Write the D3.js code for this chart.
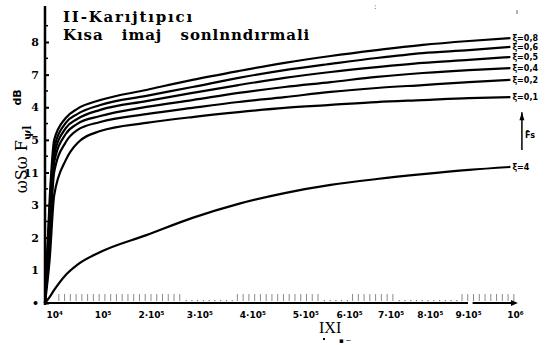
<!DOCTYPE html>
<html>
<head>
<meta charset="utf-8">
<script src="https://cdn.jsdelivr.net/npm/d3@7"></script>
<style>
  body { margin: 0; background: #fff; }
  svg { display: block; }
</style>
</head>
<body>
<svg id="chart"></svg>
<script>
// x positions of samples (axis units)
const xSamples = [-0.2, -0.1, 0, 0.25, 0.5, 1, 2, 3, 4, 5, 6, 7, 8, 9, 9.9];

const curveA = [0, 3.16, 5.0, 5.67, 5.95, 6.22, 6.53, 6.84, 7.11, 7.36, 7.57, 7.75, 7.91, 8.03, 8.12];
const curveB = [0, 2.85, 4.75, 5.52, 5.79, 6.07, 6.35, 6.62, 6.9, 7.14, 7.33, 7.51, 7.66, 7.75, 7.85];
const curveC = [0, 2.61, 4.54, 5.36, 5.64, 5.92, 6.19, 6.44, 6.68, 6.9, 7.08, 7.23, 7.36, 7.45, 7.54];
const curveD = [0, 2.3, 4.32, 5.18, 5.49, 5.73, 6.01, 6.22, 6.44, 6.62, 6.77, 6.93, 7.05, 7.14, 7.2];
const curveE = [0, 1.93, 4.02, 4.93, 5.3, 5.55, 5.79, 5.98, 6.16, 6.31, 6.47, 6.59, 6.68, 6.77, 6.84];
const curveF = [0, 1.32, 3.31, 4.38, 4.9, 5.27, 5.52, 5.7, 5.85, 5.98, 6.07, 6.16, 6.22, 6.28, 6.31];
const curveG = [0, 0.18, 0.4, 0.86, 1.17, 1.56, 2.08, 2.61, 3.04, 3.37, 3.62, 3.8, 3.95, 4.08, 4.17];

const seriesValues = [curveA, curveB, curveC, curveD, curveE, curveF, curveG];
const seriesLabels = ['ξ=0,8', 'ξ=0,6', 'ξ=0,5', 'ξ=0,4', 'ξ=0,2', 'ξ=0,1', 'ξ=4'];

const xTickValues = [0, 1.05, 2.1, 3.15, 4.3, 5.45, 6.4, 7.3, 8.15, 8.98, 10];
const xTickLabels = ['10⁴', '10⁵', '2·10⁵', '3·10⁵', '4·10⁵', '5·10⁵', '6·10⁵', '7·10⁵', '8·10⁵', '9·10⁵', '10⁶'];
const yTickValues = [0, 1, 2, 3, 4, 5, 6, 7, 8];
const yTickLabels = ['•', '1', '2', '3', '11', '5', '4', '7', '8'];

const titleLines = ['II-Karıjtıpıcı', 'Kısa   imaj   sonlnndırmali'];

const width = 547;
const height = 345;

const svg = d3.select('#chart').attr('width', width).attr('height', height);

const x = d3.scaleLinear().domain([-0.2, 10]).range([45, 515]);
const y = d3.scaleLinear().domain([0, 8]).range([303, 42]);

// title
svg.append('g')
  .selectAll('text')
  .data(titleLines)
  .enter()
  .append('text')
  .attr('x', 63)
  .attr('y', (d, i) => 22 + i * 18)
  .attr('font-family', 'DejaVu Serif, serif')
  .attr('font-weight', 'bold')
  .attr('font-size', 15)
  .attr('letter-spacing', (d, i) => i === 0 ? 1.8 : 0.9)
  .style('white-space', 'pre')
  .text(d => d);

// minor tick row along the x axis
const gaps = [[2.73, 3.92], [5.81, 6.46], [7.41, 8.82]];
const inGap = v => gaps.some(g => v > g[0] && v < g[1]);
const minor = d3.range(0.1, 10.05, 0.125);
const minorG = svg.append('g').attr('class', 'minor');
minorG.selectAll('line')
  .data(minor.filter(v => !inGap(v)))
  .enter()
  .append('line')
  .attr('x1', d => x(d)).attr('x2', d => x(d))
  .attr('y1', y(0) - 9).attr('y2', y(0) - 2)
  .attr('stroke', '#8a8a8a')
  .attr('stroke-width', 1);
minorG.selectAll('rect')
  .data(minor.filter(v => inGap(v)))
  .enter()
  .append('rect')
  .attr('x', d => x(d)).attr('y', y(0) - 3)
  .attr('width', 1.2).attr('height', 1.2)
  .attr('fill', '#777');

// y axis
const yAxis = d3.axisLeft(y)
  .tickValues(yTickValues)
  .tickSizeInner(-4)
  .tickSizeOuter(0)
  .tickPadding(6)
  .tickFormat((d, i) => yTickLabels[i]);
const yG = svg.append('g').attr('transform', `translate(${x(-0.2)},0)`).call(yAxis);
yG.select('.domain').remove();
yG.selectAll('.tick line').attr('stroke', '#000').attr('stroke-width', 2);
yG.selectAll('.tick text')
  .attr('font-family', 'DejaVu Serif, serif')
  .attr('font-weight', 'bold')
  .attr('font-size', 11)
  .attr('fill', '#000');
yG.append('line')
  .attr('x1', 0).attr('x2', 0)
  .attr('y1', y(9.1)).attr('y2', y(0) + 2)
  .attr('stroke', '#000')
  .attr('stroke-width', 2.5);
// half ticks
yG.selectAll('.half')
  .data(d3.range(0.5, 9, 1))
  .enter()
  .append('line')
  .attr('x1', 0).attr('x2', 3)
  .attr('y1', d => y(d)).attr('y2', d => y(d))
  .attr('stroke', '#000')
  .attr('stroke-width', 1.5);

// x axis
const xAxis = d3.axisBottom(x)
  .tickValues(xTickValues)
  .tickSize(0)
  .tickPadding(9)
  .tickFormat((d, i) => xTickLabels[i]);
const xG = svg.append('g').attr('transform', `translate(0,${y(0)})`).call(xAxis);
xG.select('.domain').remove();
xG.selectAll('.tick text')
  .attr('font-family', 'DejaVu Sans, sans-serif')
  .attr('font-weight', 'bold')
  .attr('font-size', 9)
  .attr('fill', '#000');
xG.append('line')
  .attr('x1', x(-0.2)).attr('x2', x(8.98))
  .attr('y1', 0).attr('y2', 0)
  .attr('stroke', '#000').attr('stroke-width', 2);
xG.append('line')
  .attr('x1', x(9.08)).attr('x2', x(10.02))
  .attr('y1', 0).attr('y2', 0)
  .attr('stroke', '#000').attr('stroke-width', 2);
xG.append('path')
  .attr('d', `M${x(10.02) - 5},-3L${x(10.02) + 2},0L${x(10.02) - 5},3Z`)
  .attr('fill', '#000');

// curves
const line = d3.line()
  .x((d, i) => x(xSamples[i]))
  .y(d => y(d))
  .curve(d3.curveMonotoneX);

svg.append('g')
  .selectAll('path')
  .data(seriesValues)
  .enter()
  .append('path')
  .attr('d', d => line(d))
  .attr('fill', 'none')
  .attr('stroke', '#000')
  .attr('stroke-width', 2.2);

// curve labels at right end
svg.append('g')
  .selectAll('text')
  .data(seriesValues)
  .enter()
  .append('text')
  .attr('x', x(9.9) + 2)
  .attr('y', d => y(d[d.length - 1]) + 3)
  .attr('font-family', 'DejaVu Sans, sans-serif')
  .attr('font-weight', 'bold')
  .attr('font-size', 8)
  .text((d, i) => seriesLabels[i]);

// vertical arrow annotation on the right
const ann = svg.append('g');
ann.append('line')
  .attr('x1', x(10.15)).attr('x2', x(10.15))
  .attr('y1', y(5.85)).attr('y2', y(4.69))
  .attr('stroke', '#000').attr('stroke-width', 1.5);
ann.append('path')
  .attr('d', `M${x(10.15) - 2.5},${y(5.6)}L${x(10.15)},${y(5.85)}L${x(10.15) + 2.5},${y(5.6)}Z`)
  .attr('fill', '#000');
ann.append('text')
  .attr('x', x(10.15) + 3)
  .attr('y', y(5.05))
  .attr('font-family', 'DejaVu Sans, sans-serif')
  .attr('font-weight', 'bold')
  .attr('font-size', 8)
  .text('F̄s');

// y axis title
svg.append('text')
  .attr('transform', `translate(27,${y(4.4)}) rotate(-90)`)
  .attr('text-anchor', 'middle')
  .attr('font-family', 'DejaVu Serif, serif')
  .attr('font-size', 16)
  .text('ωSω F')
  .append('tspan')
  .attr('font-size', 11)
  .attr('font-weight', 'bold')
  .attr('dy', 4)
  .text('ψl');

svg.append('text')
  .attr('transform', `translate(21,${y(6.3)}) rotate(-90)`)
  .attr('text-anchor', 'middle')
  .attr('font-family', 'DejaVu Sans, sans-serif')
  .attr('font-weight', 'bold')
  .attr('font-size', 11)
  .text('dB');

// x axis title and stray marks
svg.append('text')
  .attr('x', 319).attr('y', 333)
  .attr('font-family', 'Liberation Serif, serif')
  .attr('font-size', 16)
  .text('IXI');
svg.append('rect')
  .attr('x', 323).attr('y', 338)
  .attr('width', 2).attr('height', 2)
  .attr('fill', '#000');
svg.append('text')
  .attr('x', 339).attr('y', 343)
  .attr('font-family', 'DejaVu Sans, sans-serif')
  .attr('font-weight', 'bold')
  .attr('font-size', 7)
  .text('▪ ─');
svg.append('text')
  .attr('x', 374).attr('y', 9)
  .attr('font-family', 'DejaVu Sans, sans-serif')
  .attr('font-size', 7)
  .text(':');
svg.append('text')
  .attr('x', 516).attr('y', 14)
  .attr('font-family', 'DejaVu Sans, sans-serif')
  .attr('font-size', 7)
  .text('ı');
</script>
</body>
</html>
